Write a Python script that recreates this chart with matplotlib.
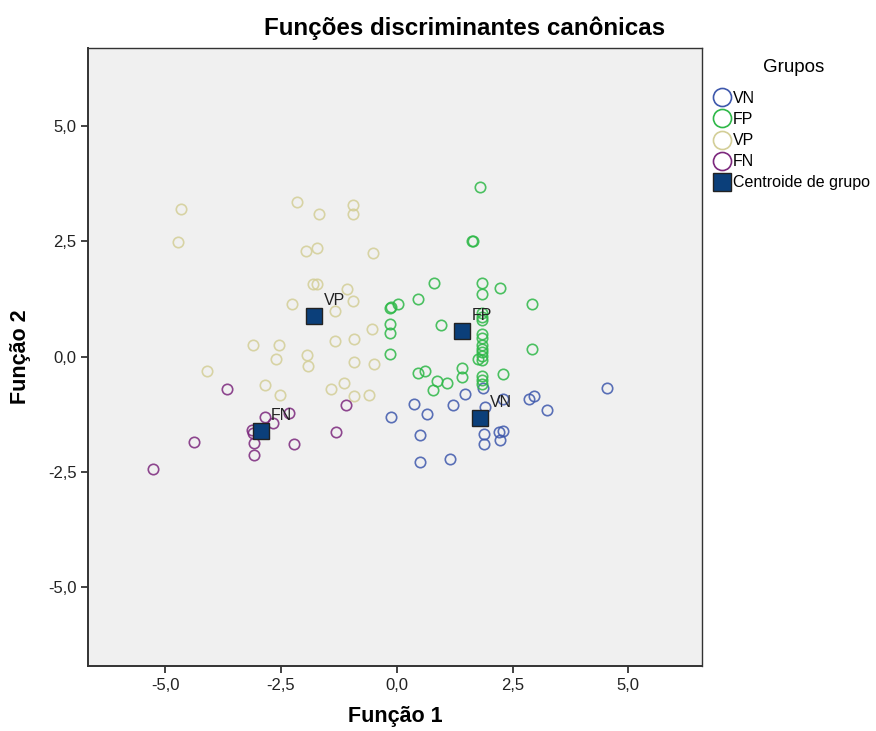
import matplotlib
matplotlib.use('Agg')
import matplotlib.pyplot as plt
from matplotlib.lines import Line2D
from matplotlib.ticker import FuncFormatter

plt.rcParams['font.family'] = ['Liberation Sans', 'DejaVu Sans']

# pontos por grupo (Função 1, Função 2)
vn_x = [4.54, 1.47, 1.86, 0.37, 1.21, -0.13, 0.65, 1.90, 2.29, 2.86, 2.96, 3.24,
        0.50, 1.88, 1.88, 2.21, 2.29, 2.23, 0.50, 1.15]
vn_y = [-0.68, -0.81, -0.68, -1.03, -1.05, -1.31, -1.25, -1.10, -0.92, -0.92, -0.86, -1.16,
        -1.70, -1.68, -1.90, -1.64, -1.62, -1.81, -2.29, -2.22]

fp_x = [1.80, 1.62, 1.64, 0.80, 1.84, 2.23, 1.84, 0.46, 0.03, -0.15, -0.13, 2.92,
        -0.15, -0.15, 0.95, 1.84, 1.84, 1.84, 1.84, 1.84, 1.84, 1.84, 1.84, 1.84, 1.84,
        2.92, -0.15, 1.75, 1.41, 1.41, 2.29, 0.46, 0.61, 0.87, 1.08, 0.78, 1.84, 1.84, 1.84]
fp_y = [3.68, 2.51, 2.51, 1.59, 1.59, 1.49, 1.36, 1.25, 1.14, 1.05, 1.08, 1.14,
        0.70, 0.51, 0.68, 0.94, 0.86, 0.79, 0.49, 0.40, 0.25, 0.16, 0.10, 0.01, -0.08,
        0.16, 0.05, -0.05, -0.25, -0.44, -0.38, -0.36, -0.31, -0.53, -0.58, -0.73, -0.42, -0.51, -0.60]

vp_x = [-4.66, -4.72, -2.16, -1.68, -0.95, -0.95, -1.96, -1.72, -0.51, -1.81, -1.72, -1.08,
        -2.26, -1.33, -0.95, -0.54, -3.11, -2.54, -1.94, -2.61, -1.92, -1.33, -0.92, -0.92,
        -0.49, -4.10, -2.84, -2.52, -1.42, -1.14, -0.92, -0.60]
vp_y = [3.20, 2.48, 3.35, 3.09, 3.29, 3.09, 2.29, 2.35, 2.25, 1.57, 1.57, 1.46,
        1.14, 0.99, 1.20, 0.60, 0.25, 0.25, 0.03, -0.05, -0.21, 0.34, 0.38, -0.12,
        -0.17, -0.31, -0.62, -0.84, -0.70, -0.58, -0.86, -0.84]

fn_x = [-3.67, -1.10, -2.33, -2.85, -2.67, -3.11, -3.08, -3.08, -2.22, -1.31, -4.38, -5.27, -3.13]
fn_y = [-0.71, -1.05, -1.23, -1.31, -1.44, -1.66, -1.88, -2.14, -1.90, -1.64, -1.85, -2.44, -1.59]

# centroides
cent_labels = ['VN', 'FP', 'VP', 'FN']
cent_x = [1.80, 1.41, -1.79, -2.93]
cent_y = [-1.33, 0.55, 0.88, -1.62]

groups = ['VN', 'FP', 'VP', 'FN']
colors = ['#3E58AC', '#2EB848', '#D3CE97', '#7C287D']
cent_color = '#0B3F7A'

fig = plt.figure(figsize=(8.76, 7.31), dpi=100)
ax = fig.add_axes([0.1008, 0.0892, 0.7006, 0.8448])
ax.set_facecolor('#F0F0F0')

series = [(vn_x, vn_y), (fp_x, fp_y), (vp_x, vp_y), (fn_x, fn_y)]
for (xs, ys), c in zip(series, colors):
    ax.plot(xs, ys, 'o', ms=7.5, mfc='none', mec=c, mew=1.2, alpha=0.85)

ax.plot(cent_x, cent_y, 's', ms=12, mfc=cent_color, mec='#222222', mew=1.0, zorder=5)
for lab, x, y in zip(cent_labels, cent_x, cent_y):
    ax.annotate(lab, (x, y), xytext=(7, 8), textcoords='offset points',
                fontsize=11.5, color='#222222', zorder=6)

ax.set_xlim(-6.66, 6.59)
ax.set_ylim(-6.71, 6.69)
ticks = [-5.0, -2.5, 0.0, 2.5, 5.0]
ax.set_xticks(ticks)
ax.set_yticks(ticks)
fmt = FuncFormatter(lambda v, p: f"{v:.1f}".replace('.', ','))
ax.xaxis.set_major_formatter(fmt)
ax.yaxis.set_major_formatter(fmt)
ax.tick_params(direction='out', length=5, width=1.2, labelsize=12, colors='#222222')
for s in ax.spines.values():
    s.set_color('#333333')
    s.set_linewidth(1.0)
ax.spines['left'].set_linewidth(1.4)
ax.spines['bottom'].set_linewidth(1.4)

ax.set_xlabel('Função 1', fontsize=15.5, fontweight='bold', labelpad=10)
ax.set_ylabel('Função 2', fontsize=15.5, fontweight='bold', labelpad=12)
fig.text(0.53, 0.962, 'Funções discriminantes canônicas', fontsize=17.4,
         fontweight='bold', ha='center', va='center')

# legenda: título à parte, entradas abaixo
fig.text(794 / 876, 1 - 68 / 731, 'Grupos', fontsize=13.5, ha='center', va='center')
handles = [Line2D([], [], ls='none', marker='o', ms=13, mfc='none', mec=c, mew=1.2)
           for c in colors]
handles.append(Line2D([], [], ls='none', marker='s', ms=13, mfc=cent_color, mec='#222222'))
leg = fig.legend(handles, groups + ['Centroide de grupo'],
                 loc='upper left', bbox_to_anchor=(0.811, 1 - 91 / 731), frameon=False,
                 fontsize=11.5, handletextpad=0.0,
                 labelspacing=0.38, handlelength=1.4, borderaxespad=0, borderpad=0)

fig.savefig('out.png', dpi=100)
